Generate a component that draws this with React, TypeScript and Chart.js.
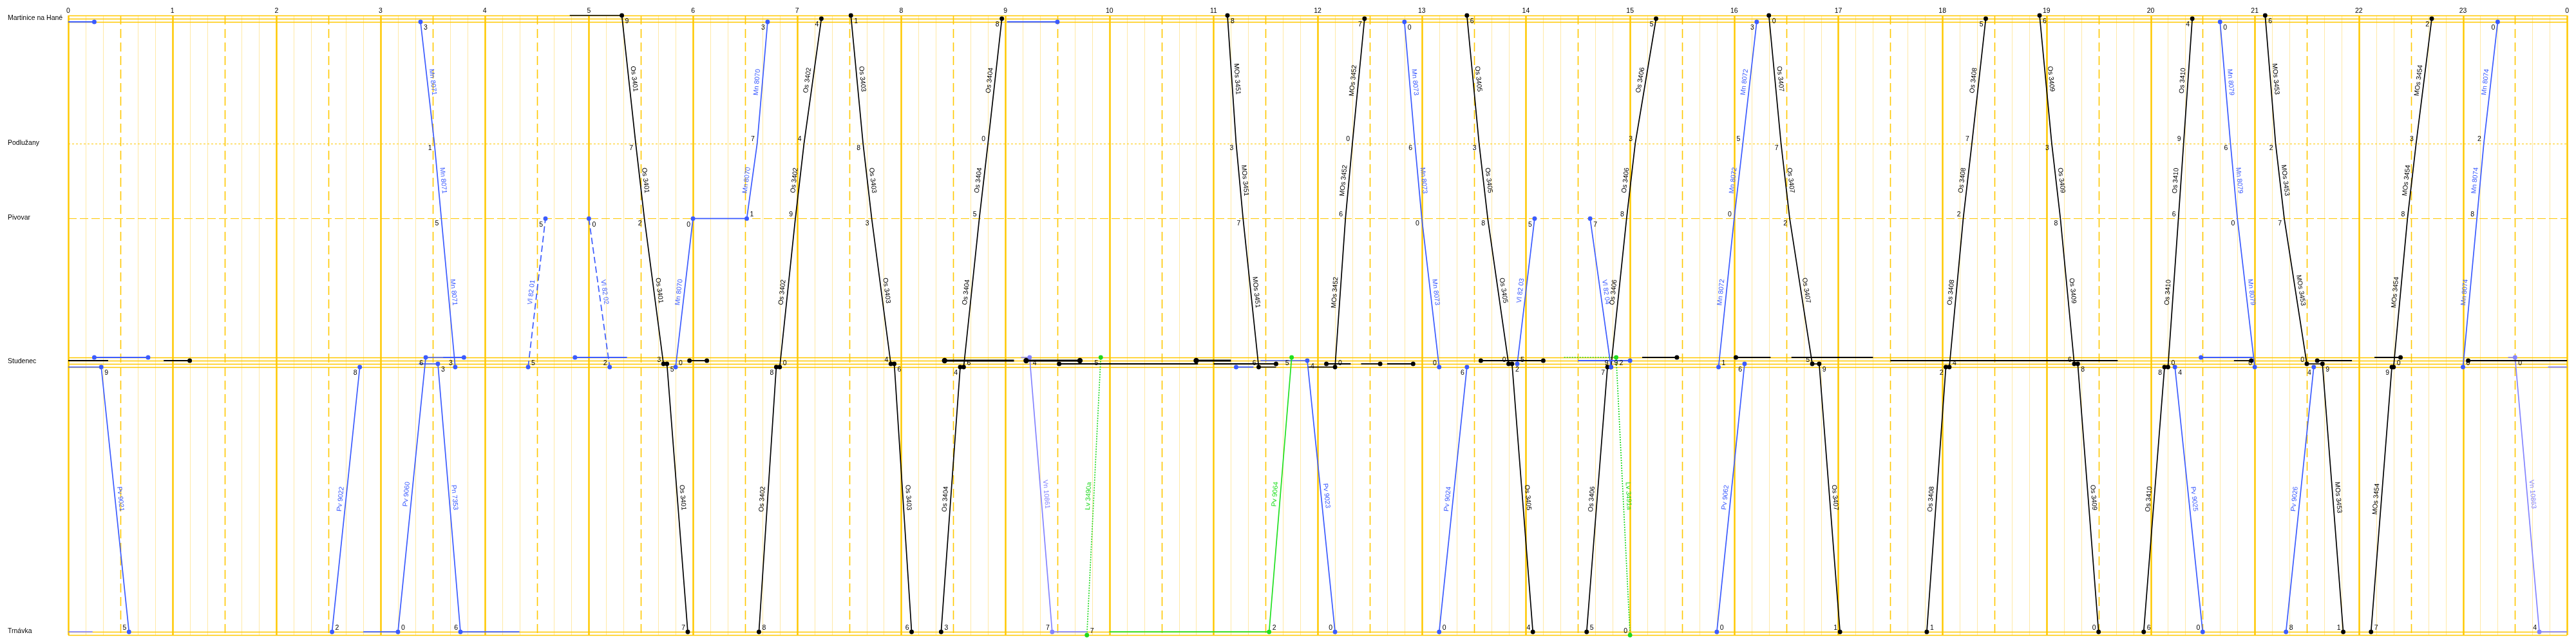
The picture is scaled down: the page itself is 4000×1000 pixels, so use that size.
import React, { useEffect, useRef } from "react";
import { Chart, registerables } from "chart.js";

Chart.register(...registerables);

// ---------- axis data ----------
const hourLabels = ["0","1","2","3","4","5","6","7","8","9","10","11","12","13","14","15","16","17","18","19","20","21","22","23","0"];
const stationNames = ["Martinice na Hané", "Podlužany", "Pivovar", "Studenec", "Trnávka"];
const stationLabelKm = [0, 3.88, 6.22, 10.69, 19.08];
const trackNames = ["M1", "M2", "M3", "P", "V", "S1", "S2", "S3", "S4", "T1", "T2"];
const trackKm = [-0.1, 0, 0.1, 3.88, 6.22, 10.54, 10.64, 10.74, 10.84, 19.08, 19.18];

type Pt = [string, string];
type Train = { name: string; kind: string; pts: Pt[] };
type Dwell = [string, string, string, string, string]; // from, to, track, kind, end markers

// ---------- train runs ----------
const pv9021: Pt[] = [["0:00", "S4"], ["0:19", "S4"], ["0:35", "T1"]];
const pv9022: Pt[] = [["2:32", "T1"], ["2:48", "S4"]];
const pv9060: Pt[] = [["2:50", "T1"], ["3:10", "T1"], ["3:26", "S1"], ["3:36", "S1"]];
const pn7353: Pt[] = [["3:22", "S3"], ["3:33", "S3"], ["3:46", "T1"], ["4:20", "T1"]];
const mn8071: Pt[] = [["3:23", "M3"], ["3:31", "P"], ["3:35", "V"], ["3:43", "S4"]];
const vl8201: Pt[] = [["4:25", "S4"], ["4:35", "V"]];
const vl8202: Pt[] = [["5:00", "V"], ["5:12", "S4"]];
const os3401: Pt[] = [["4:49", "M1"], ["5:19", "M1"], ["5:27", "P"], ["5:32", "V"], ["5:43", "S3"], ["5:45", "S3"], ["5:57", "T1"]];
const mn8070: Pt[] = [["5:50", "S4"], ["6:00", "V"], ["6:31", "V"], ["6:37", "P"], ["6:43", "M3"]];
const os3402: Pt[] = [["6:38", "T1"], ["6:48", "S4"], ["6:50", "S4"], ["6:59", "V"], ["7:04", "P"], ["7:14", "M2"]];
const os3403: Pt[] = [["7:31", "M1"], ["7:38", "P"], ["7:43", "V"], ["7:54", "S3"], ["7:56", "S3"], ["8:06", "T1"]];
const os3404: Pt[] = [["8:23", "T1"], ["8:34", "S4"], ["8:36", "S4"], ["8:45", "V"], ["8:50", "P"], ["8:58", "M2"]];
const vn10861: Pt[] = [["9:09", "S1"], ["9:14", "S1"], ["9:27", "T1"], ["9:47", "T1"]];
const lv3490a: Pt[] = [["9:47", "T2"], ["9:55", "S1"]];
const pv9064: Pt[] = [["10:00", "T1"], ["11:32", "T1"], ["11:45", "S1"]];
const mos3451: Pt[] = [["11:08", "M1"], ["11:13", "P"], ["11:17", "V"], ["11:26", "S4"], ["11:36", "S4"]];
const pv9023: Pt[] = [["11:27", "S2"], ["11:54", "S2"], ["12:10", "T1"]];
const mos3452: Pt[] = [["11:54", "S4"], ["12:10", "S4"], ["12:16", "V"], ["12:20", "P"], ["12:27", "M2"]];
const mn8073: Pt[] = [["12:50", "M3"], ["12:56", "P"], ["13:00", "V"], ["13:10", "S4"]];
const pv9024: Pt[] = [["13:10", "T1"], ["13:26", "S4"]];
const os3405: Pt[] = [["13:26", "M1"], ["13:33", "P"], ["13:38", "V"], ["13:50", "S3"], ["13:52", "S3"], ["14:04", "T1"]];
const vl8203: Pt[] = [["13:55", "S3"], ["14:05", "V"]];
const vl8204: Pt[] = [["14:37", "V"], ["14:49", "S4"]];
const os3406: Pt[] = [["14:35", "T1"], ["14:47", "S4"], ["14:49", "S4"], ["14:58", "V"], ["15:03", "P"], ["15:15", "M2"]];
const lv3491a: Pt[] = [["14:22", "S1"], ["14:52", "S1"], ["15:00", "T2"]];
const pv9062: Pt[] = [["15:50", "T1"], ["16:06", "S3"]];
const mn8072: Pt[] = [["15:51", "S4"], ["16:00", "V"], ["16:05", "P"], ["16:13", "M3"]];
const os3407: Pt[] = [["16:20", "M1"], ["16:27", "P"], ["16:32", "V"], ["16:45", "S3"], ["16:49", "S3"], ["17:01", "T1"]];
const os3408: Pt[] = [["17:51", "T1"], ["18:02", "S4"], ["18:04", "S4"], ["18:12", "V"], ["18:17", "P"], ["18:25", "M2"]];
const os3409: Pt[] = [["18:56", "M1"], ["19:03", "P"], ["19:08", "V"], ["19:16", "S3"], ["19:18", "S3"], ["19:30", "T1"]];
const os3410: Pt[] = [["19:56", "T1"], ["20:08", "S4"], ["20:10", "S4"], ["20:16", "V"], ["20:19", "P"], ["20:24", "M2"]];
const pv9025: Pt[] = [["20:14", "S4"], ["20:30", "T1"]];
const mn8079: Pt[] = [["20:40", "M3"], ["20:46", "P"], ["20:50", "V"], ["21:00", "S4"]];
const mos3453: Pt[] = [["21:06", "M1"], ["21:12", "P"], ["21:17", "V"], ["21:30", "S3"], ["21:39", "S3"], ["21:51", "T1"]];
const pv9026: Pt[] = [["21:18", "T1"], ["21:34", "S4"]];
const mos3454: Pt[] = [["22:07", "T1"], ["22:19", "S4"], ["22:20", "S4"], ["22:28", "V"], ["22:33", "P"], ["22:42", "M2"]];
const mn8074: Pt[] = [["23:00", "S4"], ["23:08", "V"], ["23:12", "P"], ["23:20", "M3"]];
const vn10863: Pt[] = [["23:26", "S1"], ["23:30", "S1"], ["23:44", "T1"], ["24:00", "T1"]];

const trains: Train[] = [
  { name: "Pv 9021", kind: "mn", pts: pv9021 },
  { name: "Pv 9022", kind: "mn", pts: pv9022 },
  { name: "Pv 9060", kind: "mn", pts: pv9060 },
  { name: "Pn 7353", kind: "mn", pts: pn7353 },
  { name: "Mn 8071", kind: "mn", pts: mn8071 },
  { name: "Vl 82 01", kind: "vl", pts: vl8201 },
  { name: "Vl 82 02", kind: "vl", pts: vl8202 },
  { name: "Os 3401", kind: "os", pts: os3401 },
  { name: "Mn 8070", kind: "mn", pts: mn8070 },
  { name: "Os 3402", kind: "os", pts: os3402 },
  { name: "Os 3403", kind: "os", pts: os3403 },
  { name: "Os 3404", kind: "os", pts: os3404 },
  { name: "Vn 10861", kind: "vn", pts: vn10861 },
  { name: "Lv 3490a", kind: "lv", pts: lv3490a },
  { name: "Pv 9064", kind: "pv", pts: pv9064 },
  { name: "MOs 3451", kind: "os", pts: mos3451 },
  { name: "Pv 9023", kind: "mn", pts: pv9023 },
  { name: "MOs 3452", kind: "os", pts: mos3452 },
  { name: "Mn 8073", kind: "mn", pts: mn8073 },
  { name: "Pv 9024", kind: "mn", pts: pv9024 },
  { name: "Os 3405", kind: "os", pts: os3405 },
  { name: "Vl 82 03", kind: "mn", pts: vl8203 },
  { name: "Vl 82 04", kind: "mn", pts: vl8204 },
  { name: "Os 3406", kind: "os", pts: os3406 },
  { name: "Lv 3491a", kind: "lv", pts: lv3491a },
  { name: "Pv 9062", kind: "mn", pts: pv9062 },
  { name: "Mn 8072", kind: "mn", pts: mn8072 },
  { name: "Os 3407", kind: "os", pts: os3407 },
  { name: "Os 3408", kind: "os", pts: os3408 },
  { name: "Os 3409", kind: "os", pts: os3409 },
  { name: "Os 3410", kind: "os", pts: os3410 },
  { name: "Pv 9025", kind: "mn", pts: pv9025 },
  { name: "Mn 8079", kind: "mn", pts: mn8079 },
  { name: "MOs 3453", kind: "os", pts: mos3453 },
  { name: "Pv 9026", kind: "mn", pts: pv9026 },
  { name: "MOs 3454", kind: "os", pts: mos3454 },
  { name: "Mn 8074", kind: "mn", pts: mn8074 },
  { name: "Vn 10863", kind: "vn", pts: vn10863 },
];

// ---------- standing / shunting occupations ----------
const dwells: Dwell[] = [
  ["0:00", "0:15", "M3", "mn", "r"],
  ["0:00", "0:14", "T1", "vn", ""],
  ["0:00", "0:23", "S2", "os", ""],
  ["0:15", "0:46", "S1", "mn", "lr"],
  ["0:55", "1:10", "S2", "os", "r"],
  ["3:36", "3:48", "S1", "mn", "r"],
  ["4:52", "5:22", "S1", "mn", "l"],
  ["5:58", "6:08", "S2", "os", "lr"],
  ["9:01", "9:30", "M3", "mn", "r"],
  ["8:25", "9:05", "S2", "st", "l"],
  ["9:12", "9:43", "S2", "st", "lr"],
  ["9:31", "10:51", "S3", "os", "l"],
  ["10:50", "11:10", "S2", "st", "l"],
  ["11:00", "11:36", "S3", "os", "r"],
  ["11:13", "11:23", "S4", "mn", "l"],
  ["12:05", "12:19", "S3", "os", "l"],
  ["12:25", "12:36", "S3", "os", "r"],
  ["12:40", "12:55", "S3", "os", "r"],
  ["13:34", "14:10", "S2", "os", "lr"],
  ["14:30", "15:00", "S2", "mn", "r"],
  ["15:07", "15:27", "S1", "os", "r"],
  ["16:01", "16:21", "S1", "os", "l"],
  ["16:33", "17:20", "S1", "os", ""],
  ["17:30", "19:41", "S2", "os", ""],
  ["20:29", "20:59", "S1", "mn", "l"],
  ["20:48", "20:58", "S2", "os", "r"],
  ["21:36", "21:56", "S2", "os", "l"],
  ["22:09", "22:24", "S1", "os", "r"],
  ["23:03", "24:00", "S2", "os", "l"],
  ["23:49", "24:00", "S4", "vn", ""],
];

// ---------- helpers ----------
const toMin = (s: string) => {
  const [h, m] = s.split(":").map(Number);
  return h * 60 + m;
};
const km = (t: string) => trackKm[trackNames.indexOf(t)];
const moving = (a: Pt, b: Pt) => a[1][0] !== b[1][0];

const COLORS: Record<string, string> = {
  os: "#000000",
  st: "#000000",
  mn: "#3b5bff",
  vl: "#3b5bff",
  vn: "#8383ff",
  pv: "#1fe01f",
  lv: "#1fd81f",
};
const DASH: Record<string, number[]> = { vl: [10, 5], lv: [2, 2] };
const YEL = "#ffc800";
const YEL_LIGHT = "#ffe9a6";
const FONT = "10.5px 'Liberation Sans', Arial, sans-serif";

function eventInfo(pts: Pt[], i: number) {
  const prevMove = i > 0 && moving(pts[i - 1], pts[i]);
  const nextMove = i < pts.length - 1 && moving(pts[i], pts[i + 1]);
  return { prevMove, nextMove };
}

const gridPlugin = {
  id: "trainGrid",
  beforeDatasetsDraw(chart: any) {
    const { ctx, chartArea, scales } = chart;
    const { top, bottom, left, right } = chartArea;
    const x = scales.x;
    const y = scales.y;
    ctx.save();
    for (let m = 0; m <= 1440; m += 10) {
      const px = Math.round(x.getPixelForValue(m)) + 0.5;
      ctx.beginPath();
      if (m % 60 === 0) {
        ctx.strokeStyle = YEL;
        ctx.lineWidth = 2.5;
        ctx.setLineDash([]);
      } else if (m % 30 === 0) {
        ctx.strokeStyle = YEL;
        ctx.lineWidth = 1.6;
        ctx.setLineDash([14, 7]);
      } else {
        ctx.strokeStyle = YEL_LIGHT;
        ctx.lineWidth = 1;
        ctx.setLineDash([]);
      }
      ctx.moveTo(px, top);
      ctx.lineTo(px, bottom);
      ctx.stroke();
    }
    trackNames.forEach((t, i) => {
      const py = Math.round(y.getPixelForValue(trackKm[i])) + 0.5;
      ctx.beginPath();
      ctx.strokeStyle = YEL;
      if (t === "P") {
        ctx.lineWidth = 1;
        ctx.setLineDash([3, 3]);
      } else if (t === "V") {
        ctx.lineWidth = 1;
        ctx.setLineDash([13, 5]);
      } else {
        ctx.lineWidth = 1.6;
        ctx.setLineDash([]);
      }
      ctx.moveTo(left, py);
      ctx.lineTo(right, py);
      ctx.stroke();
    });
    ctx.restore();
  },
  afterDatasetsDraw(chart: any) {
    const { ctx, chartArea, scales } = chart;
    const x = scales.x;
    const y = scales.y;
    ctx.save();
    ctx.font = FONT;
    ctx.fillStyle = "#000";
    ctx.textAlign = "center";
    ctx.textBaseline = "middle";
    hourLabels.forEach((h, i) => {
      ctx.fillText(h, x.getPixelForValue(i * 60), chartArea.top - 6.5);
    });
    ctx.textAlign = "left";
    stationNames.forEach((n, i) => {
      ctx.fillText(n, 4, y.getPixelForValue(stationLabelKm[i]) - 1);
    });
    trains.forEach((tr) => {
      const col = COLORS[tr.kind];
      ctx.fillStyle = col;
      const pts = tr.pts;
      const pix = pts.map(([t, k]) => [x.getPixelForValue(toMin(t)), y.getPixelForValue(km(k))]);
      for (let i = 0; i < pts.length - 1; i++) {
        if (!moving(pts[i], pts[i + 1])) continue;
        const [x1, y1] = pix[i];
        const [x2, y2] = pix[i + 1];
        const ang = Math.atan2(y2 - y1, x2 - x1);
        ctx.save();
        ctx.translate((x1 + x2) / 2, (y1 + y2) / 2);
        ctx.rotate(ang);
        ctx.textAlign = "center";
        ctx.textBaseline = "bottom";
        ctx.fillText(tr.name, 0, -3);
        ctx.restore();
      }
      ctx.fillStyle = "#000";
      pts.forEach((p, i) => {
        const { prevMove, nextMove } = eventInfo(pts, i);
        if (!prevMove && !nextMove) return;
        const digit = String(toMin(p[0]) % 10);
        const [px, py] = pix[i];
        let below: boolean;
        if (nextMove && !prevMove) {
          ctx.textAlign = "left";
          below = pix[i + 1][1] > py;
          ctx.textBaseline = below ? "top" : "bottom";
          ctx.fillText(digit, px + 5, below ? py + 4 : py - 1);
        } else if (prevMove && !nextMove) {
          ctx.textAlign = "right";
          below = pix[i - 1][1] > py;
          ctx.textBaseline = below ? "top" : "bottom";
          ctx.fillText(digit, px - 4, below ? py + 4 : py - 1);
        } else {
          ctx.textAlign = "right";
          below = pix[i - 1][1] < py;
          ctx.textBaseline = below ? "top" : "bottom";
          ctx.fillText(digit, px - 4, below ? py + 2 : py - 1);
        }
      });
    });
    ctx.restore();
  },
};

export default function App() {
  const ref = useRef<HTMLCanvasElement | null>(null);
  useEffect(() => {
    if (!ref.current) return;
    const datasets: any[] = [];
    dwells.forEach(([a, b, t, kind, marks]) => {
      const col = COLORS[kind];
      datasets.push({
        data: [
          { x: toMin(a), y: km(t) },
          { x: toMin(b), y: km(t) },
        ],
        borderColor: col,
        backgroundColor: col,
        borderWidth: kind === "st" ? 3.2 : 1.8,
        pointRadius: [marks.includes("l") ? 2.6 : 0, marks.includes("r") ? 2.6 : 0],
        showLine: true,
        clip: false,
      });
    });
    trains.forEach((tr) => {
      const col = COLORS[tr.kind];
      datasets.push({
        label: tr.name,
        data: tr.pts.map(([t, k]) => ({ x: toMin(t), y: km(k) })),
        borderColor: col,
        backgroundColor: col,
        borderWidth: 1.7,
        borderDash: DASH[tr.kind] || [],
        pointRadius: tr.pts.map((_, i) => {
          const { prevMove, nextMove } = eventInfo(tr.pts, i);
          return prevMove !== nextMove ? 2.6 : 0;
        }),
        showLine: true,
        clip: false,
      });
    });
    const chart = new Chart(ref.current, {
      type: "scatter",
      data: { datasets },
      options: {
        animation: false,
        responsive: false,
        maintainAspectRatio: false,
        events: [],
        layout: { padding: { left: 98, right: 4, top: 16, bottom: 4 } },
        plugins: { legend: { display: false }, tooltip: { enabled: false } },
        elements: { line: { tension: 0, fill: false }, point: { hoverRadius: 0, borderWidth: 0 } },
        scales: {
          x: { type: "linear", min: 0, max: 1440, display: false },
          y: { type: "linear", min: -0.1, max: 19.18, reverse: true, display: false },
        },
      },
      plugins: [gridPlugin],
    });
    return () => chart.destroy();
  }, []);
  return (
    <div style={{ width: 3984, height: 984 }}>
      <canvas ref={ref} width={3984} height={984} style={{ width: 3984, height: 984, display: "block" }} />
    </div>
  );
}
